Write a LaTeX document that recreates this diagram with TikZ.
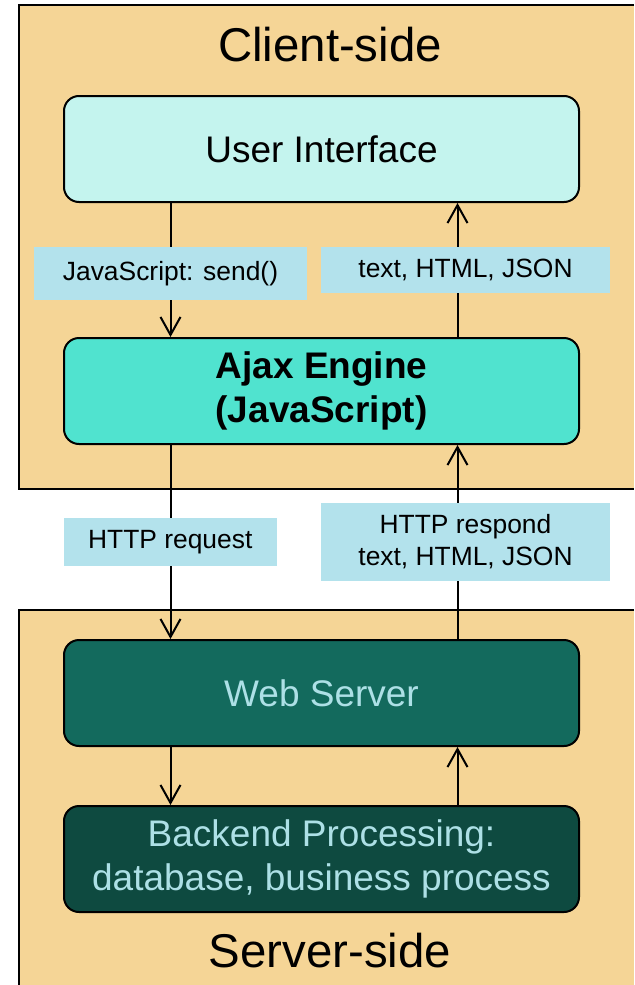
\documentclass[tikz,border=0pt]{standalone}
\usepackage{fontspec}
\setmainfont{Liberation Sans}
\usetikzlibrary{arrows.meta, positioning}

\definecolor{lado}{HTML}{F5D596}
\definecolor{interface}{HTML}{C4F4EE}
\definecolor{motor}{HTML}{50E3CF}
\definecolor{servidor}{HTML}{136A5D}
\definecolor{backend}{HTML}{0E4A40}
\definecolor{textoserv}{HTML}{ADE0E6}
\definecolor{rotulo}{HTML}{B3E2EC}

\begin{document}
\begin{tikzpicture}[
            x=0.5pt, y=-0.5pt,
            >={Straight Barb[length=9pt, width=10pt]},
            % Estilo dos blocos arredondados
            block/.style={
                draw=black,
                rectangle,
                rounded corners=7.5pt,
                minimum width=257.5pt,
                minimum height=53pt,
                line width=1pt,
                align=center,
                font=\fontsize{18.5}{22}\selectfont
            },
            % Estilo dos rotulos sobre as setas
            tag/.style={
                fill=rotulo,
                inner sep=0pt,
                align=center,
                font=\fontsize{13.2}{16}\selectfont
            },
            % Estilo das setas
            signal/.style={
                draw=black,
                ->,
                line width=1pt
            },
            sidetitle/.style={font=\fontsize{23.7}{28}\selectfont}
        ]

            \useasboundingbox (0,0) rectangle (634,985);

            % Regioes de fundo
            \fill[lado] (19,5) rectangle (634,489);
            \draw[line width=1pt] (634,5) -- (19,5) -- (19,489) -- (634,489);
            \fill[lado] (19,610) rectangle (634,985);
            \draw[line width=1pt] (634,610) -- (19,610) -- (19,985);

            \node[sidetitle] (client) at (330,45) {Client-side};
            \node[sidetitle] (server) at (330,951) {Server-side};

            % Blocos
            \node[block, fill=interface] (ui) at (321.5,149) {User Interface};
            \node[block, fill=motor, below=67pt of ui, font=\fontsize{18.5}{22}\selectfont\bfseries] (ajax) {Ajax Engine\\(JavaScript)};
            \node[block, fill=servidor, text=textoserv, below=97pt of ajax] (web) {Web Server};
            \node[block, fill=backend, text=textoserv, below=29pt of web] (backend) {Backend Processing:\\database, business process};

            % Setas
            \draw[signal] ([xshift=-75.5pt]ui.south) -- ([xshift=-75.5pt]ajax.north);
            \draw[signal] ([xshift=68pt]ajax.north) -- ([xshift=68pt]ui.south);
            \draw[signal] ([xshift=-75.5pt]ajax.south) -- ([xshift=-75.5pt]web.north);
            \draw[signal] ([xshift=68pt]web.north) -- ([xshift=68pt]ajax.south);
            \draw[signal] ([xshift=-75.5pt]web.south) -- ([xshift=-75.5pt]backend.north);
            \draw[signal] ([xshift=68pt]backend.north) -- ([xshift=68pt]web.south);

            % Rotulos
            \node[tag, minimum width=136.5pt, minimum height=26.5pt] (send) at (170.5,273.5) {JavaScript: send()};
            \node[tag, minimum width=144.5pt, minimum height=23pt] (back) at (465.5,270) {text, HTML, JSON};
            \node[tag, minimum width=106.75pt, minimum height=24pt] (request) at (170.25,542) {HTTP request};
            \node[tag, minimum width=144.5pt, minimum height=39pt] (respond) at (465.5,542) {HTTP respond\\text, HTML, JSON};

        \end{tikzpicture}
\end{document}
